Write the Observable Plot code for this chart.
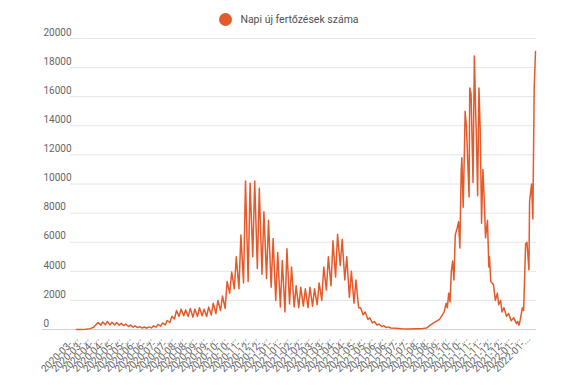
<!DOCTYPE html>
<html>
<head>
<meta charset="utf-8">
<script src="https://cdn.jsdelivr.net/npm/d3@7"></script>
<script src="https://cdn.jsdelivr.net/npm/@observablehq/plot@0.6"></script>
<style>
  html, body { margin: 0; padding: 0; background: #fff; }
  #wrap { position: relative; width: 578px; height: 385px; overflow: hidden; }
  #legend { position: absolute; top: 13px; left: 0; width: 578px; display: flex; justify-content: center; align-items: center;
            font-family: Roboto, sans-serif; font-size: 10.5px; color: #505050; }
  #legend .dot { width: 13px; height: 13px; border-radius: 50%; background: #e55a2b; margin-right: 8px; }
</style>
</head>
<body>
<div id="wrap">
  <div id="legend"><span class="dot"></span><span>Napi új fertőzések száma</span></div>
  <div id="chart"></div>
</div>
<script>
const seriesName = "Napi új fertőzések száma";
const startDate = "2020-03-04";

// day offsets from startDate, and the daily new infections read at those days
const dayOffsets = [
  0, 7, 14, 21, 26, 30,
  33, 37, 40, 44, 47, 51, 54, 58, 61, 65, 68, 72, 75, 79,
  82, 86, 89, 93, 96, 100, 103, 107, 110, 114, 117, 121, 124, 128, 131, 135,
  138, 142, 145, 149, 152, 156, 159, 163, 166, 170, 173, 177, 180, 184,
  187, 191, 194, 198, 201, 205, 208, 212, 215, 219, 222, 226, 229, 233,
  236, 240, 243, 247, 250, 254, 257, 261, 264, 268, 271, 275, 278, 282,
  285, 289, 292, 296, 299, 303, 306, 310, 313, 317, 320, 324, 327, 331,
  334, 338, 341, 345, 348, 352, 355, 359, 362, 366, 369, 373, 376, 380,
  383, 387, 390, 394, 397, 401, 404, 408, 411, 415, 418, 422, 425, 429,
  432, 436, 439, 443, 446, 450, 453, 457, 460, 464, 467, 471, 474, 478,
  485, 495, 505, 515, 525, 532, 538, 545, 552, 559,
  562, 564, 566, 568, 570, 572, 574, 576, 579, 581, 583, 585, 586, 588,
  590, 591, 593, 597, 598, 600, 603, 605, 607, 608, 610, 612, 614, 616,
  618, 620, 622, 625, 627, 628, 630, 634, 637, 640, 642, 645, 647, 650,
  654, 657, 661, 665, 669, 671, 673, 675, 678, 680, 683, 685, 688, 689,
  692, 694, 696, 698
];
const cases = [
  0, 5, 20, 60, 150, 350,
  470, 300, 520, 330, 550, 320, 500, 310, 480, 300, 430, 260, 380, 200,
  300, 160, 250, 130, 200, 100, 170, 90, 180, 110, 250, 160, 350, 230, 450, 320,
  620, 480, 900, 720, 1300, 900, 1400, 950, 1350, 900, 1450, 850, 1400, 900,
  1500, 950, 1400, 900, 1550, 1000, 1800, 1100, 2000, 1300, 2300, 1450, 3300, 2500,
  3950, 2800, 5000, 2800, 6500, 3200, 10200, 3300, 10050, 5000, 10200, 4200, 9700, 3800,
  8100, 3500, 7500, 2900, 6250, 2000, 5300, 1550, 4750, 1200, 5550, 1750, 4300, 1550,
  3000, 1500, 2900, 1600, 2800, 1500, 2900, 1600, 2800, 1700, 3200, 2000, 4300, 2700,
  5000, 3000, 6100, 3600, 6550, 4400, 6200, 3400, 5000, 2200, 4000, 1800, 3400, 1500,
  1500, 1000, 1200, 700, 800, 450, 550, 300, 380, 200, 270, 130, 180, 100,
  80, 50, 40, 45, 60, 100, 300, 500, 700, 1200,
  1800, 1500, 2500, 1900, 4000, 4700, 3400, 6500, 7000, 7400, 5600, 10900, 11800, 8400,
  12500, 15000, 13900, 9100, 16600, 16200, 10100, 18800, 15000, 13500, 9200, 16600, 13600, 7300,
  11000, 9000, 6300, 7500, 4300, 5000, 3300, 3100, 2000, 2500, 1700, 2000, 1200, 1500,
  900, 1100, 600, 800, 400, 550, 300, 700, 1500, 1300, 5900, 6000, 4100, 8800,
  10000, 7600, 16600, 19100
];

const yTicks = [0, 2000, 4000, 6000, 8000, 10000, 12000, 14000, 16000, 18000, 20000];
const xTickDates = [
  "2020-03-04", "2020-03-20", "2020-04-05", "2020-04-21", "2020-05-07", "2020-05-23",
  "2020-06-08", "2020-06-24", "2020-07-10", "2020-07-26", "2020-08-11", "2020-08-27",
  "2020-09-12", "2020-09-28", "2020-10-14", "2020-10-30", "2020-11-15", "2020-12-01",
  "2020-12-17", "2021-01-02", "2021-01-18", "2021-02-03", "2021-02-19", "2021-03-07",
  "2021-03-23", "2021-04-08", "2021-04-24", "2021-05-10", "2021-05-26", "2021-06-11",
  "2021-06-27", "2021-07-13", "2021-07-29", "2021-08-14", "2021-08-30", "2021-09-15",
  "2021-10-01", "2021-10-17", "2021-11-02", "2021-11-18", "2021-12-04", "2021-12-20",
  "2022-01-05", "2022-01-21"
];

const start = new Date(startDate);
const data = dayOffsets.map((d, i) => ({date: d3.utcDay.offset(start, d), value: cases[i]}));
const ticks = xTickDates.map(s => ({date: new Date(s), label: s.slice(0, 8) + "..."}));

const chart = Plot.plot({
  width: 578,
  height: 385,
  marginTop: 38,
  marginBottom: 56,
  marginLeft: 76,
  marginRight: 43,
  style: {fontFamily: "Roboto, sans-serif", background: "transparent"},
  x: {type: "utc", domain: [start, d3.utcDay.offset(start, dayOffsets[dayOffsets.length - 1])], axis: null},
  y: {domain: [0, 20000], axis: null},
  marks: [
    Plot.ruleY(yTicks.filter(v => v > 0), {stroke: "#e4e4e4", strokeWidth: 1, insetLeft: -6, insetRight: -1}),
    Plot.ruleY([0], {stroke: "#d2d2d2", strokeWidth: 1, insetLeft: -34, insetRight: -1}),
    Plot.text(yTicks, {y: d => d, text: d => String(d), frameAnchor: "left", textAnchor: "start",
      dx: -33, dy: -6, fontSize: 10, fill: "#666666"}),
    Plot.text(ticks, {x: "date", text: "label", frameAnchor: "bottom", rotate: -45, textAnchor: "end",
      dx: 2, dy: 10, fontSize: 10, fill: "#5f5f5f"}),
    Plot.line(data, {x: "date", y: "value", stroke: "#e55a2b", strokeWidth: 1.5, strokeLinejoin: "round"})
  ]
});
document.getElementById("chart").appendChild(chart);
</script>
</body>
</html>
